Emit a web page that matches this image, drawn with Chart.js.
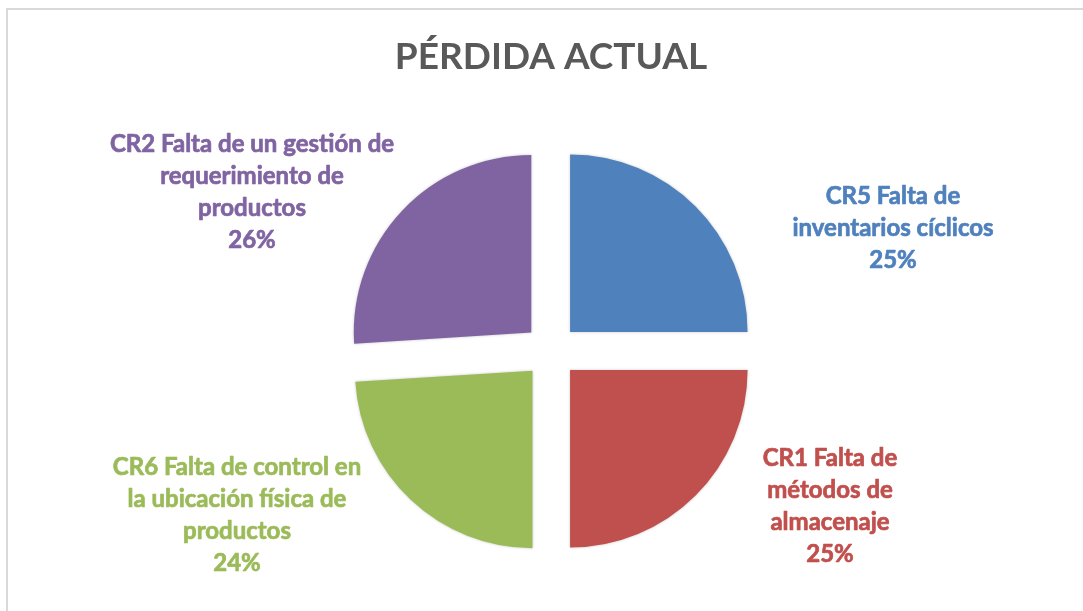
<!DOCTYPE html>
<html lang="es">
<head>
  <meta charset="UTF-8">
  <title>Pérdida actual</title>
  <script src="https://cdn.jsdelivr.net/npm/chart.js"></script>
  <style>
    body { margin: 0; background: #fff; }
    #chartContainer { width: 1083px; height: 611px; }
  </style>
</head>
<body>
  <div id="chartContainer">
    <canvas id="perdidaChart"></canvas>
  </div>

  <script>
    // Datos del gráfico (orden horario desde las 12)
    const categorias = [
      ['CR5 Falta de', 'inventarios cíclicos'],
      ['CR1 Falta de', 'métodos de', 'almacenaje'],
      ['CR6 Falta de control en', 'la ubicación física de', 'productos'],
      ['CR2 Falta de un gestión de', 'requerimiento de', 'productos']
    ];
    const valores = [25, 25, 24, 26];
    const colores = ['#4F81BD', '#C0504D', '#9BBB59', '#8064A2'];

    // Posición de cada etiqueta respecto al centro del pastel (px)
    const posEtiquetas = [
      { dx: 342, dy: -124 },
      { dx: 279, dy: 154 },
      { dx: -314, dy: 163 },
      { dx: -299, dy: -160 }
    ];

    const FUENTE = 'Lato, "Open Sans", sans-serif';

    // Marco gris claro alrededor del gráfico
    const marco = {
      id: 'marco',
      beforeDraw(chart) {
        const ctx = chart.ctx;
        ctx.save();
        ctx.strokeStyle = '#d9d9d9';
        ctx.lineWidth = 2;
        ctx.strokeRect(7, 9, 1200, 800);
        ctx.restore();
      }
    };

    // Sombra suave de los sectores
    const sombra = {
      id: 'sombra',
      beforeDatasetsDraw(chart) {
        const ctx = chart.ctx;
        ctx.save();
        ctx.shadowColor = 'rgba(0,0,0,0.22)';
        ctx.shadowBlur = 3;
      },
      afterDatasetsDraw(chart) {
        chart.ctx.restore();
      }
    };

    // Etiquetas con nombre y porcentaje
    const etiquetas = {
      id: 'etiquetas',
      afterDraw(chart) {
        const ctx = chart.ctx;
        const meta = chart.getDatasetMeta(0);
        const total = valores.reduce((a, b) => a + b, 0);
        const alto = 32;
        const cap = 17;
        ctx.save();
        ctx.font = 'bold 24px ' + FUENTE;
        ctx.textAlign = 'center';
        ctx.textBaseline = 'alphabetic';
        ctx.lineWidth = 0.7;
        ctx.lineJoin = 'round';
        meta.data.forEach((arc, i) => {
          const lineas = categorias[i].concat([Math.round(valores[i] / total * 100) + '%']);
          const cx = arc.x + posEtiquetas[i].dx;
          const cy = arc.y + posEtiquetas[i].dy;
          const y0 = cy - (lineas.length - 1) * alto / 2 + cap / 2;
          ctx.fillStyle = colores[i];
          ctx.strokeStyle = colores[i];
          lineas.forEach((t, j) => {
            ctx.fillText(t, cx, y0 + j * alto);
            ctx.strokeText(t, cx, y0 + j * alto);
          });
        });
        ctx.restore();
      }
    };

    new Chart(document.getElementById('perdidaChart'), {
      type: 'pie',
      data: {
        labels: categorias.map(c => c.join(' ')),
        datasets: [{
          data: valores,
          backgroundColor: colores,
          borderWidth: 0,
          offset: 108,
          hoverOffset: 108
        }]
      },
      options: {
        responsive: true,
        maintainAspectRatio: false,
        animation: false,
        radius: 177.5,
        layout: { padding: { left: 19, right: 0, top: 0, bottom: 0 } },
        plugins: {
          legend: { display: false },
          tooltip: { enabled: false },
          title: {
            display: true,
            text: 'PÉRDIDA ACTUAL',
            color: '#595959',
            font: { family: FUENTE, size: 37, weight: 'bold', lineHeight: 1.2 },
            padding: { top: 34.5, bottom: 12.1 }
          }
        }
      },
      plugins: [marco, sombra, etiquetas]
    });
  </script>
</body>
</html>
